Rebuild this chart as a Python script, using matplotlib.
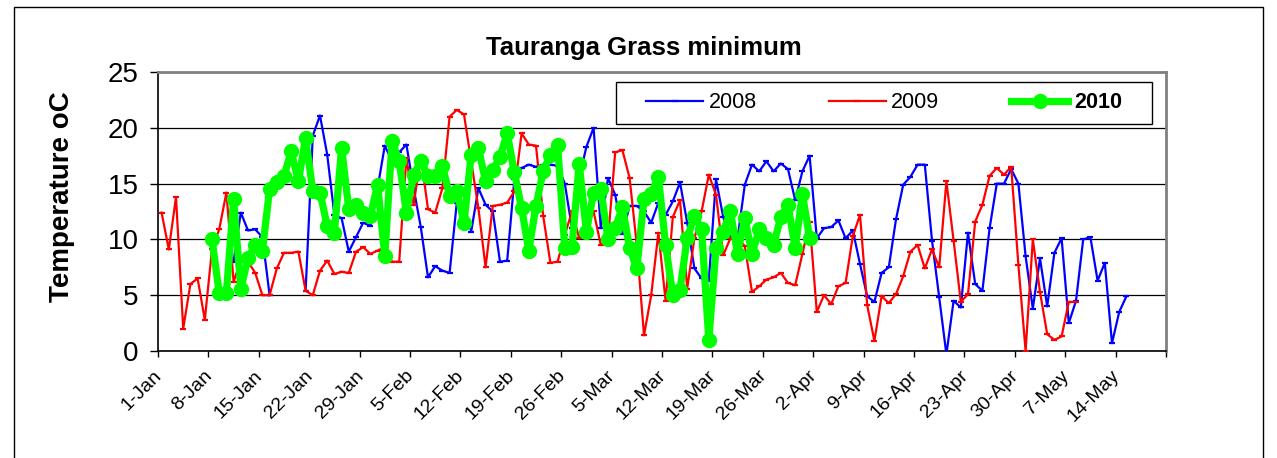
import numpy as np
import matplotlib
matplotlib.use("Agg")
import matplotlib.pyplot as plt
import matplotlib.transforms as mtransforms
from matplotlib.patches import Rectangle

plt.rcParams['font.family'] = ['Liberation Sans', 'DejaVu Sans']

# ---------------- data ----------------
tick_labels = ['1-Jan', '8-Jan', '15-Jan', '22-Jan', '29-Jan', '5-Feb', '12-Feb',
               '19-Feb', '26-Feb', '5-Mar', '12-Mar', '19-Mar', '26-Mar', '2-Apr',
               '9-Apr', '16-Apr', '23-Apr', '30-Apr', '7-May', '14-May']
n_days = 140  # categories on the axis (1-Jan .. 20-May)

start_2008 = 10
temps_2008 = [8.0, 12.4, 10.8, 10.9, 10.2, 5.0, np.nan, np.nan, np.nan, np.nan,
              5.4, 19.3, 21.1, 17.6, 12.2, 11.9, 8.9, 10.2, 11.5, 11.2,
              14.6, 18.4, 17.0, 17.8, 18.5, 14.6, 11.1, 6.6, 7.6, 7.2,
              7.0, 13.3, 13.1, 10.7, 14.6, 13.1, 12.5, 8.0, 8.1, 15.4,
              16.4, 16.7, 16.5, 16.7, 16.7, 16.6, 15.0, 11.0, 15.5, 18.3,
              20.0, 11.0, 15.5, 14.0, 10.5, 13.0, 13.0, 12.5, 11.5, 13.3,
              12.2, 13.4, 15.1, 11.5, 7.4, 6.5, 6.3, 15.4, 12.0, 10.2,
              10.1, 14.9, 16.7, 16.1, 17.0, 16.1, 16.8, 16.3, 13.5, 16.1,
              17.5, 10.1, 11.0, 11.1, 11.7, 10.1, 10.8, 7.8, 4.9, 4.4,
              7.0, 7.5, 11.8, 14.9, 15.6, 16.7, 16.7, 9.9, 4.8, -0.3,
              4.5, 3.9, 10.6, 6.0, 5.4, 11.0, 15.0, 15.0, 16.3, 15.0,
              8.5, 3.8, 8.3, 4.0, 8.8, 10.1, 2.5, 4.5, 10.0, 10.2,
              6.3, 7.9, 0.7, 3.5, 4.9]

start_2009 = 0
temps_2009 = [12.4, 9.1, 13.8, 2.0, 6.0, 6.5, 2.8, 9.1, 10.9, 14.2,
              6.2, 8.1, 8.0, 7.0, 5.0, 5.0, 7.4, 8.8, 8.8, 8.9,
              5.4, 5.0, 7.2, 8.1, 6.9, 7.1, 7.0, 8.9, 9.3, 8.7,
              9.0, 9.3, 8.0, 8.0, 17.3, 13.1, 17.5, 12.7, 12.4, 14.6,
              21.0, 21.6, 21.2, 17.0, 12.8, 7.5, 13.0, 13.1, 13.3, 14.3,
              19.5, 18.5, 18.4, 12.1, 7.9, 8.0, 10.4, 12.5, 10.1, 11.0,
              12.5, 9.5, 10.0, 17.8, 18.0, 15.5, 9.5, 1.4, 5.0, 10.6,
              4.5, 12.0, 13.5, 5.6, 10.1, 12.5, 15.8, 14.0, 8.6, 10.1,
              10.1, 9.4, 5.3, 5.8, 6.4, 6.6, 7.0, 6.1, 5.9, 8.7,
              11.6, 3.5, 5.0, 4.2, 5.8, 6.1, 10.3, 12.2, 4.1, 0.9,
              4.9, 4.3, 5.1, 6.7, 8.9, 9.5, 7.4, 9.1, 7.5, 15.2,
              9.9, 4.4, 5.1, 11.6, 13.1, 15.7, 16.4, 15.8, 16.5, 7.7,
              0.0, 10.0, 5.3, 1.5, 1.0, 1.3, 4.4, 4.4]

start_2010 = 7
temps_2010 = [10.0, 5.2, 5.2, 13.6, 5.6, 8.3, 9.5, 9.0, 14.5, 15.1,
              15.7, 17.9, 15.2, 19.1, 14.3, 14.2, 11.2, 10.6, 18.2, 12.7,
              13.1, 12.4, 12.1, 14.9, 8.5, 18.8, 17.0, 12.4, 15.8, 17.0,
              15.7, 15.7, 16.6, 13.9, 14.3, 11.5, 17.6, 18.2, 15.2, 16.2,
              17.4, 19.5, 16.0, 12.8, 9.0, 13.0, 16.1, 17.6, 18.5, 9.2,
              9.3, 16.8, 10.7, 14.2, 14.5, 10.0, 11.0, 12.9, 9.2, 7.4,
              13.6, 14.1, 15.6, 9.5, 5.0, 5.5, 10.1, 12.1, 10.9, 1.0,
              9.2, 10.7, 12.5, 8.7, 11.9, 8.7, 10.9, 10.1, 9.5, 12.0,
              13.1, 9.2, 14.1, 10.1]

# ---------------- figure ----------------
W, H = 1277, 458
fig = plt.figure(figsize=(W / 100, H / 100), dpi=100)
fig.patch.set_facecolor('white')

ax = fig.add_axes([158 / W, 1 - 351 / H, (1166 - 158) / W, (351 - 72) / H])


def xs(start, vals):
    return np.arange(start, start + len(vals)) + 0.5


ax.plot(xs(start_2008, temps_2008), temps_2008, color='#0000FF', lw=1.6,
        marker='_', ms=5, mew=1.6, label='2008', zorder=3)
ax.plot(xs(start_2009, temps_2009), temps_2009, color='#FF0000', lw=1.6,
        marker='_', ms=5, mew=1.6, label='2009', zorder=4)
ax.plot(xs(start_2010, temps_2010), temps_2010, color='#00FF00', lw=5.2,
        marker='o', ms=10, mec='#00FF00', mfc='#00FF00', label='2010', zorder=5)

ax.set_xlim(0, n_days)
ax.set_ylim(0, 25)
ax.set_yticks([0, 5, 10, 15, 20, 25])
ax.set_xticks(np.arange(0, n_days + 1, 7))
ax.set_xticklabels(tick_labels + [''])
ax.grid(axis='y', color='black', lw=0.9, zorder=1)
ax.set_axisbelow(True)

ax.tick_params(axis='y', labelsize=20, length=6, width=1, direction='out', pad=8)
ax.tick_params(axis='x', labelsize=14, length=4.5, width=1, direction='out', pad=5)
offset = mtransforms.ScaledTranslation(-0.05, -0.03, fig.dpi_scale_trans)
for lab in ax.get_xticklabels():
    lab.set_rotation(45)
    lab.set_ha('right')
    lab.set_rotation_mode('anchor')
    lab.set_transform(lab.get_transform() + offset)

for s in ['left', 'bottom']:
    ax.spines[s].set_color('black')
    ax.spines[s].set_linewidth(1.2)
for s in ['top', 'right']:
    ax.spines[s].set_color('#808080')
    ax.spines[s].set_linewidth(2)

# legend box
box = Rectangle((0.4544, 0.8136), 0.986 - 0.4544, 0.964 - 0.8136, transform=ax.transAxes,
                facecolor='white', edgecolor='black', lw=1.0, zorder=9)
ax.add_patch(box)
leg = ax.legend(loc='center', bbox_to_anchor=(0.7202, 0.889), ncol=3, frameon=False,
                fontsize=15.5, handlelength=2.65, handletextpad=0.25,
                columnspacing=3.35, borderpad=0, numpoints=1)
leg.set_zorder(10)
leg.get_texts()[2].set_fontweight('bold')

fig.text(644 / W, 1 - 48 / H, 'Tauranga Grass minimum', ha='center', va='center',
         fontsize=18.5, fontweight='bold')
fig.text(62 / W, 1 - 197 / H, 'Temperature oC', ha='center', va='center',
         rotation=90, fontsize=20, fontweight='bold')

# outer chart border
fig.add_artist(Rectangle((14 / W, -0.05), (1263 - 14) / W, (H - 7) / H + 0.05,
                         transform=fig.transFigure, fill=False, edgecolor='black', lw=1))

fig.savefig('out.png', dpi=100)
